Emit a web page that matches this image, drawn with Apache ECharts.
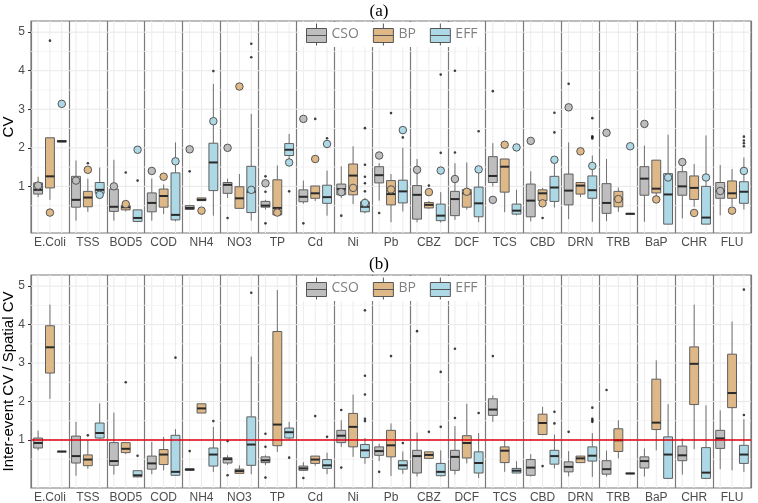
<!DOCTYPE html>
<html><head><meta charset="utf-8">
<script src="https://cdn.jsdelivr.net/npm/echarts@6/dist/echarts.min.js"></script>
<style>html,body{margin:0;padding:0;background:#fff}#c{width:758px;height:503px}</style>
</head><body><div id="c"></div>
<script>
// ---------- DATA ----------
const categories = ['E.Coli','TSS','BOD5','COD','NH4','NO3','TP','Cd','Ni','Pb','CBZ','DCF','TCS','CBD','DRN','TRB','BaP','CHR','FLU'];
const groups = ['CSO','BP','EFF'];
const yTicks = [1,2,3,4,5];
const yMinor = [0.5,1.5,2.5,3.5,4.5];
const refLine = [1];

// Panel (a): CV — [lower whisker, Q1, median, Q3, upper whisker]
const cvCSO = [[0.72,0.80,0.91,1.09,1.25],[0.11,0.46,0.65,1.26,1.67],[0.11,0.35,0.47,0.93,1.69],[0.11,0.34,0.57,0.83,1.20],[0.39,0.40,0.44,0.50,0.52],[0.70,0.82,1.04,1.10,1.20],[0.40,0.46,0.50,0.61,0.65],[0.55,0.60,0.73,0.91,1.15],[0.70,0.78,0.93,1.06,1.52],[0.63,1.09,1.29,1.51,1.60],[0.07,0.15,0.78,1.02,1.71],[0.13,0.24,0.67,0.87,1.60],[1.00,1.10,1.27,1.77,2.12],[0.09,0.21,0.63,1.06,1.39],[0.15,0.52,0.89,1.32,2.14],[0.10,0.30,0.57,1.07,1.71],[0.08,0.77,1.20,1.51,2.06],[0.17,0.77,1.00,1.38,1.55],[0.25,0.69,0.88,1.10,1.55]];
const cvBP = [[0.65,0.96,1.26,2.26,2.26],[0.34,0.47,0.71,0.87,1.20],[0.35,0.39,0.46,0.50,0.55],[0.28,0.46,0.75,0.93,1.05],[0.63,0.63,0.65,0.70,0.70],[0.43,0.43,0.69,0.99,1.32],[0.26,0.26,0.44,1.17,1.54],[0.62,0.69,0.82,1.01,1.01],[0.54,0.78,1.28,1.58,2.04],[0.07,0.52,0.80,1.15,1.32],[0.42,0.44,0.52,0.58,0.62],[0.40,0.46,0.82,0.92,1.62],[0.33,0.85,1.51,1.71,1.71],[0.55,0.63,0.82,0.91,0.96],[0.72,0.80,1.02,1.10,1.10],[0.34,0.47,0.67,0.87,0.97],[0.72,0.83,0.94,1.68,1.68],[0.47,0.66,0.96,1.27,1.58],[0.49,0.69,0.82,1.14,1.45]];
const cvEFF = [[2.15,2.15,2.17,2.19,2.19],[0.78,0.82,0.91,1.10,1.49],[0.07,0.09,0.18,0.39,0.39],[0.09,0.13,0.26,1.35,2.14],[0.24,0.89,1.62,2.12,3.66],[0.11,0.32,0.86,1.52,2.88],[1.55,1.80,1.95,2.11,2.36],[0.24,0.56,0.72,1.03,1.41],[0.30,0.34,0.47,0.60,0.70],[0.35,0.57,0.87,1.16,2.00],[0.06,0.11,0.24,0.54,0.85],[0.07,0.21,0.56,0.98,1.41],[0.25,0.28,0.37,0.54,0.91],[0.45,0.61,0.97,1.26,1.60],[0.08,0.69,0.90,1.27,1.80],[0.29,0.29,0.29,0.29,0.29],[0.02,0.02,0.79,1.33,2.34],[0.02,0.02,0.19,1.00,2.32],[0.40,0.56,0.86,1.12,1.75]];
// Panel (a) outliers: [category index, value]
const cvCSOOut = [[4,1.39],[5,0.18],[6,1.26],[6,0.86],[6,0.04],[7,0.04],[8,0.24],[9,0.31],[11,4.00],[11,1.88],[12,3.47],[14,3.66]];
const cvBPOut = [[0,4.78],[1,1.60],[2,1.36],[7,2.75],[9,2.90],[10,1.02],[13,0.18]];
const cvEFFOut = [[2,1.15],[4,3.99],[5,4.70],[5,4.35],[6,0.87],[7,2.25],[8,2.51],[8,1.56],[8,1.25],[8,1.08],[8,0.87],[9,2.27],[10,3.90],[10,1.87],[11,2.43],[13,2.91],[13,2.40],[14,2.77],[14,2.30],[14,2.27],[14,2.24],[18,2.29],[18,2.19],[18,2.12],[18,2.04]];
// Panel (a) circle markers
const cvCSOMark = [1.02,1.15,1.00,1.40,1.96,2.00,1.08,2.75,0.85,1.80,1.43,1.19,0.65,2.18,3.05,2.39,2.62,1.63,0.88];
const cvBPMark = [0.32,1.43,0.54,1.25,0.37,3.59,0.32,1.71,0.96,0.92,0.85,0.86,2.08,0.56,1.91,0.67,0.66,0.31,0.37];
const cvEFFMark = [3.14,0.78,1.95,1.65,2.69,0.91,1.62,2.10,0.57,2.46,1.41,1.44,2.01,1.69,1.53,2.04,1.23,1.23,1.40];

// Panel (b): Inter-event CV / Spatial CV
const rCSO = [[0.73,0.79,0.92,1.05,1.24],[0.07,0.40,0.58,1.10,1.47],[0.10,0.34,0.45,0.93,1.71],[0.11,0.24,0.39,0.58,0.95],[0.21,0.21,0.23,0.25,0.25],[0.35,0.40,0.50,0.54,0.60],[0.35,0.41,0.47,0.56,0.60],[0.20,0.21,0.26,0.32,0.42],[0.82,0.93,1.11,1.25,1.51],[0.45,0.60,0.71,0.82,0.90],[0.05,0.14,0.58,0.73,1.19],[0.10,0.21,0.56,0.73,1.36],[1.47,1.64,1.79,2.07,2.16],[0.05,0.08,0.28,0.49,0.63],[0.05,0.17,0.30,0.43,0.71],[0.05,0.11,0.24,0.46,0.72],[0.05,0.27,0.45,0.56,0.78],[0.10,0.46,0.60,0.84,1.04],[0.24,0.78,1.04,1.25,1.77]];
const rBP = [[2.07,2.74,3.41,3.97,4.52],[0.25,0.33,0.49,0.61,0.99],[0.63,0.67,0.77,0.93,0.93],[0.21,0.36,0.62,0.75,1.08],[1.70,1.70,1.82,1.94,1.94],[0.13,0.13,0.19,0.24,0.34],[0.69,0.85,1.40,3.82,4.90],[0.33,0.39,0.49,0.58,0.58],[0.56,0.82,1.34,1.69,2.18],[0.06,0.56,0.86,1.25,1.43],[0.52,0.52,0.61,0.69,0.69],[0.39,0.53,0.92,1.11,1.94],[0.17,0.41,0.72,0.82,0.99],[1.14,1.14,1.44,1.67,1.86],[0.40,0.41,0.52,0.58,0.58],[0.52,0.70,0.99,1.29,1.51],[0.73,1.27,1.45,2.58,3.07],[0.76,1.92,2.98,3.42,4.52],[0.21,1.84,2.22,3.23,4.08]];
const rEFF = [[0.70,0.70,0.70,0.70,0.70],[1.03,1.05,1.18,1.44,1.95],[0.03,0.04,0.08,0.20,0.20],[0.07,0.08,0.17,1.12,1.28],[0.17,0.32,0.62,0.79,1.34],[0.11,0.34,0.88,1.60,3.17],[1.02,1.05,1.20,1.31,1.47],[0.11,0.26,0.34,0.49,0.67],[0.38,0.54,0.73,0.88,1.05],[0.12,0.24,0.34,0.46,0.70],[0.05,0.07,0.17,0.39,0.73],[0.01,0.14,0.40,0.69,1.18],[0.14,0.14,0.20,0.26,0.45],[0.26,0.37,0.58,0.73,1.14],[0.04,0.45,0.59,0.82,1.18],[0.13,0.13,0.13,0.13,0.13],[0.00,0.00,0.62,1.08,1.93],[0.00,0.00,0.15,0.80,1.90],[0.17,0.39,0.62,0.86,1.54]];
const rCSOOut = [[4,0.71],[5,0.97],[5,0.08],[6,1.16],[6,0.82],[6,0.02],[7,0.01],[8,1.78],[8,0.28],[9,0.17],[10,3.83],[11,3.37],[11,1.57],[12,3.18],[14,1.21],[15,2.30]];
const rBPOut = [[1,1.12],[2,2.50],[7,1.62],[9,3.18],[10,1.21],[13,0.32]];
const rEFFOut = [[2,0.59],[3,3.14],[4,1.49],[5,4.83],[6,0.54],[7,1.08],[8,4.37],[8,2.67],[8,2.18],[8,1.55],[8,1.49],[9,0.92],[10,2.77],[10,1.34],[11,1.70],[13,1.73],[13,1.43],[14,1.84],[14,1.55],[14,1.51],[14,1.47],[18,4.91],[18,1.65]];

// ---------- STYLE / BUILD ----------
const groupColors = ['#bebebe','#deb887','#add8e6'];
const SPAN = 3.2, XMAX = categories.length * SPAN;
const xPos = (i, k) => i * SPAN + 0.6 + k;
const panels = [
  {box:[cvCSO,cvBP,cvEFF], out:[cvCSOOut,cvBPOut,cvEFFOut], mark:[cvCSOMark,cvBPMark,cvEFFMark], ymin:-0.21, ymax:5.29, name:'CV', ref:false},
  {box:[rCSO,rBP,rEFF], out:[rCSOOut,rBPOut,rEFFOut], mark:null, ymin:-0.25, ymax:5.29, name:'Inter-event CV / Spatial CV', ref:true}
];
const grids = [{left:31, right:7, top:21, height:212, show:true, borderColor:'#7a7a7a', borderWidth:1.2, containLabel:false, outerBoundsMode:'none'},
               {left:31, right:7, top:275, height:213, show:true, borderColor:'#7a7a7a', borderWidth:1.2, containLabel:false, outerBoundsMode:'none'}];
const xAxes = [], yAxes = [], series = [];
const txt = '#4d4d4d';
panels.forEach((p, g) => {
  xAxes.push({type:'category', gridIndex:g, data:categories, boundaryGap:true,
    axisLine:{show:false}, axisTick:{show:false},
    axisLabel:{interval:0, color:txt, fontSize:12, fontFamily:'Liberation Sans', margin:4},
    splitLine:{show:true, lineStyle:{color:'#7a7a7a', width:1.2}}});
  xAxes.push({type:'value', gridIndex:g, min:0, max:XMAX, show:false});
  yAxes.push({type:'value', gridIndex:g, min:p.ymin, max:p.ymax,
    axisLine:{show:false}, splitLine:{show:false},
    axisTick:{show:true, customValues:yTicks, length:3, lineStyle:{color:'#333'}},
    axisLabel:{customValues:yTicks, color:txt, fontSize:12, fontFamily:'Liberation Sans', margin:6},
    name:p.name, nameLocation:'middle', nameGap:15, nameMoveOverlap:false,
    nameTextStyle:{fontSize:15, color:'#000', fontFamily:'Liberation Sans'}});
  const xi = g*2+1;
  // background grid lines
  const hData = yMinor.map(v => [v, 0]).concat(yTicks.map(v => [v, 1]));
  series.push({type:'custom', xAxisIndex:xi, yAxisIndex:g, silent:true, z:0, data:hData,
    renderItem:(params, api) => {
      const a = api.coord([0, api.value(0)]), b = api.coord([XMAX, api.value(0)]);
      return {type:'line', shape:{x1:a[0],y1:a[1],x2:b[0],y2:b[1]},
        style:{stroke: api.value(1) ? '#e8e8e8' : '#f3f3f3', lineWidth: api.value(1) ? 1 : 0.8}};
    }});
  const vData = [];
  categories.forEach((c, i) => groups.forEach((gr, k) => vData.push([xPos(i,k)])));
  series.push({type:'custom', xAxisIndex:xi, yAxisIndex:g, silent:true, z:0, data:vData,
    renderItem:(params, api) => {
      const a = api.coord([api.value(0), p.ymin]), b = api.coord([api.value(0), p.ymax]);
      return {type:'line', shape:{x1:a[0],y1:a[1],x2:b[0],y2:b[1]}, style:{stroke:'#ececec', lineWidth:1}};
    }});
  if (p.ref) {
    series.push({type:'custom', xAxisIndex:xi, yAxisIndex:g, silent:true, z:5, data:refLine.map(v=>[v]),
      renderItem:(params, api) => {
        const a = api.coord([0, api.value(0)]), b = api.coord([XMAX, api.value(0)]);
        return {type:'line', shape:{x1:a[0],y1:a[1],x2:b[0],y2:b[1]}, style:{stroke:'#e0000e', lineWidth:1.6}};
      }});
  }
  groups.forEach((gr, k) => {
    series.push({type:'custom', name:gr, xAxisIndex:xi, yAxisIndex:g, z:2,
      itemStyle:{color:groupColors[k], borderColor:'#5a5a5a', borderWidth:1},
      data: p.box[k].map((b, i) => [xPos(i,k)].concat(b)),
      renderItem:(params, api) => {
        const x = api.value(0);
        const lo = api.coord([x, api.value(1)]), q1 = api.coord([x, api.value(2)]),
              md = api.coord([x, api.value(3)]), q3 = api.coord([x, api.value(4)]),
              hi = api.coord([x, api.value(5)]);
        const hw = api.size([0.75, 0])[0] / 2;
        return {type:'group', children:[
          {type:'line', shape:{x1:lo[0],y1:lo[1],x2:q1[0],y2:q1[1]}, style:{stroke:'#707070', lineWidth:1}},
          {type:'line', shape:{x1:q3[0],y1:q3[1],x2:hi[0],y2:hi[1]}, style:{stroke:'#707070', lineWidth:1}},
          {type:'rect', shape:{x:q3[0]-hw, y:q3[1], width:2*hw, height:Math.max(q1[1]-q3[1], 0.5)},
            style:{fill:groupColors[k], stroke:'#5f5f5f', lineWidth:1}},
          {type:'line', shape:{x1:md[0]-hw,y1:md[1],x2:md[0]+hw,y2:md[1]}, style:{stroke:'#2a2a2a', lineWidth:2}}
        ]};
      }});
  });
  groups.forEach((gr, k) => {
    series.push({type:'scatter', name:gr+' outlier', xAxisIndex:xi, yAxisIndex:g, z:3, silent:true,
      symbol:'circle', symbolSize:2.6, itemStyle:{color:'#111'},
      data: p.out[k].map(o => [xPos(o[0],k), o[1]])});
  });
  if (p.mark) {
    groups.forEach((gr, k) => {
      series.push({type:'scatter', name:gr+' marker', xAxisIndex:xi, yAxisIndex:g, z:4, silent:true,
        symbol:'circle', symbolSize:7.5, itemStyle:{color:groupColors[k], borderColor:'#555', borderWidth:1, opacity:1},
        data: p.mark[k].map((v, i) => [xPos(i,k), v])});
    });
  }
});

const legendIcon = 'path://M10 0V5M0 5H20V19H0ZM0 12H20M10 19V22';
const mkLegend = top => ({
  left:299, top:top, orient:'horizontal', icon:legendIcon, itemWidth:20, itemHeight:22, itemGap:14,
  padding:[1,6,1,7], backgroundColor:'#ffffff', z:10, selectedMode:false,
  textStyle:{color:'#808080', fontSize:14, fontFamily:'Open Sans'},
  data: groups.map((gr, k) => ({name:gr, itemStyle:{color:groupColors[k], borderColor:'#555', borderWidth:1}}))
});

const chart = echarts.init(document.getElementById('c'), null, {renderer:'canvas'});
chart.setOption({
  animation:false,
  backgroundColor:'#ffffff',
  title:[
    {text:'(a)', left:'center', top:-2, textStyle:{fontFamily:'Liberation Serif', fontSize:17, fontWeight:'normal', color:'#000'}},
    {text:'(b)', left:'center', top:251, textStyle:{fontFamily:'Liberation Serif', fontSize:17, fontWeight:'normal', color:'#000'}}
  ],
  legend:[mkLegend(22), mkLegend(276)],
  grid:grids, xAxis:xAxes, yAxis:yAxes, series:series
});
</script></body></html>
